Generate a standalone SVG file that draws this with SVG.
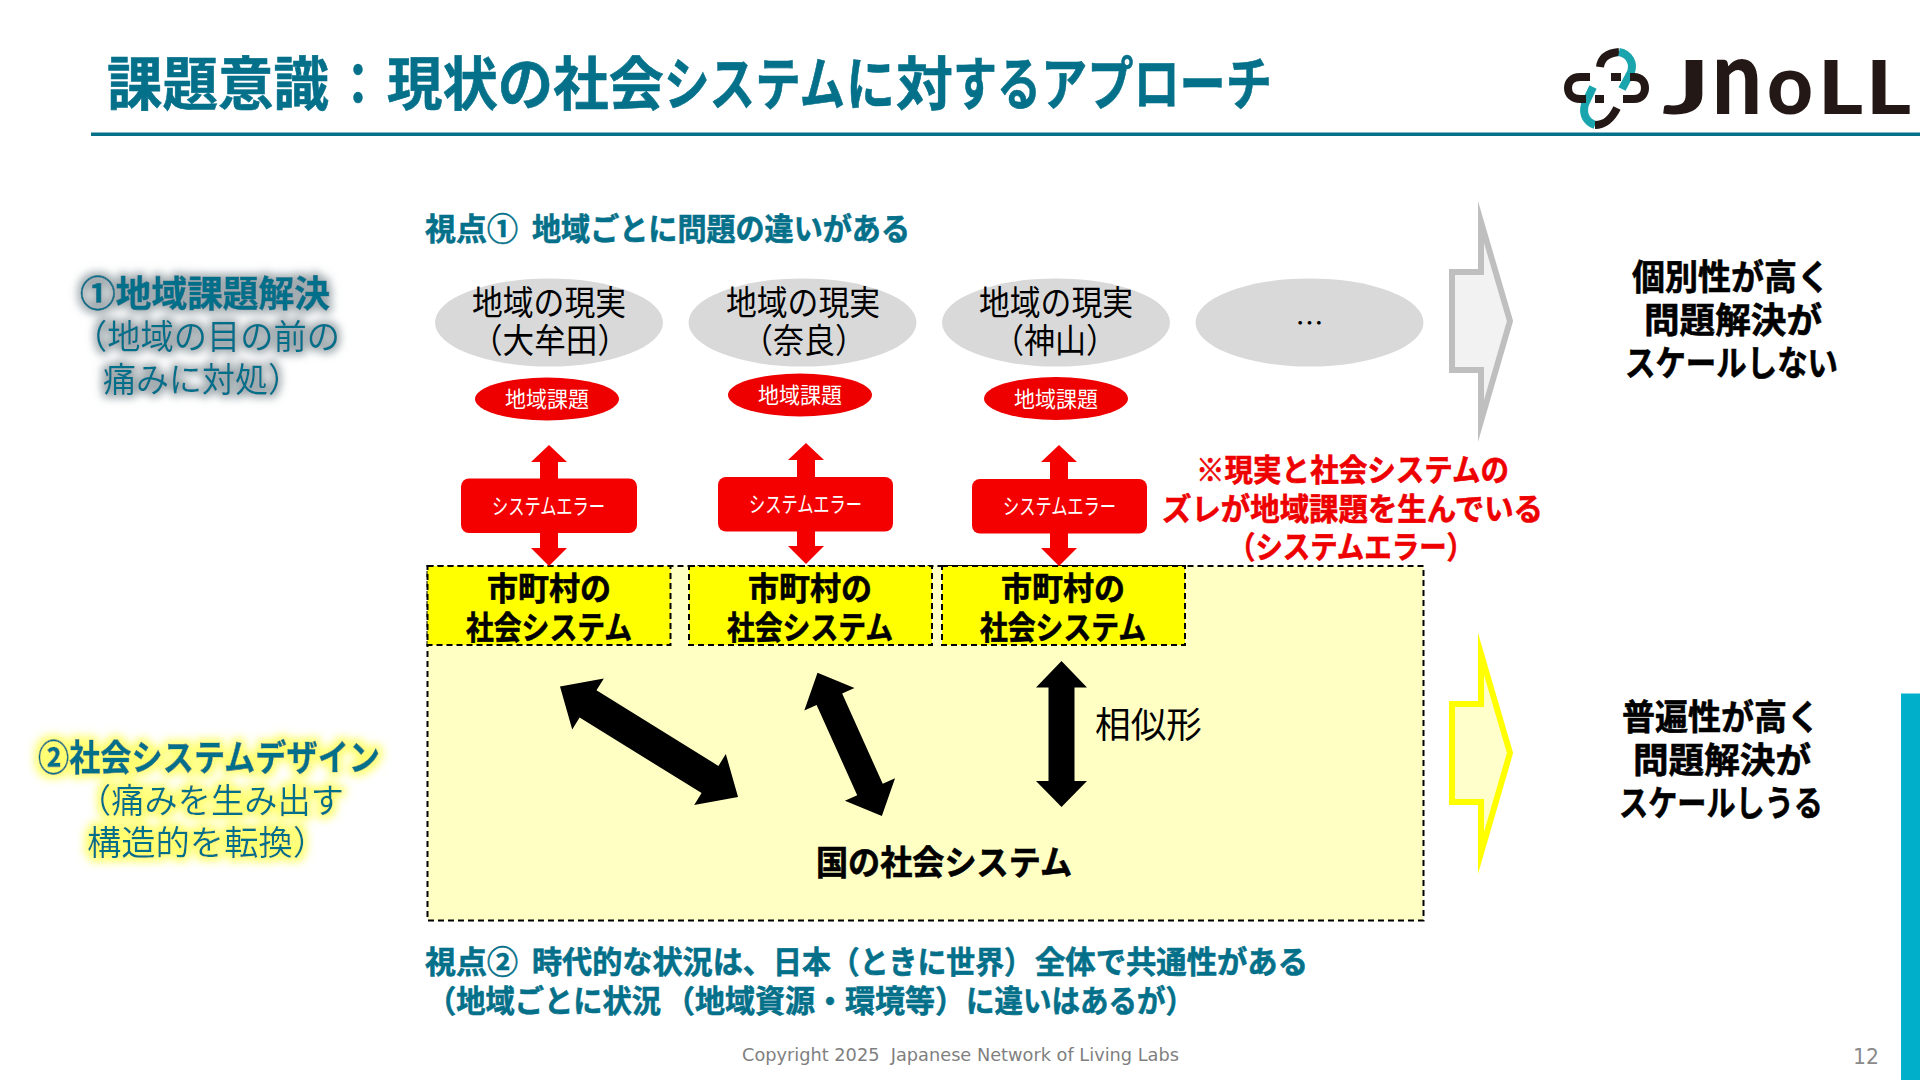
<svg xmlns="http://www.w3.org/2000/svg" width="1920" height="1080" viewBox="0 0 1920 1080">
<style>
text{font-family:"Noto Sans CJK JP","Noto Sans",sans-serif;}
.teal{fill:#04708a}
.b{font-weight:700;stroke-width:.6;paint-order:stroke}
.teal.b{stroke:#04708a}
.k{fill:#000}
.k.b{stroke:#000}
.w{fill:#fff}
.r{fill:#ee0000}
.r.b{stroke:#ee0000}
.gr{fill:#d9d9d9}
.red{fill:#f40000}
.dash{stroke:#000;stroke-width:2;stroke-dasharray:6 4}
.link{fill:none;stroke-width:8;stroke-linecap:butt}
</style>
<defs>
<filter id="glowGray" x="-12%" y="-35%" width="124%" height="170%">
<feMorphology in="SourceAlpha" operator="dilate" radius="3"/><feGaussianBlur stdDeviation="4" result="b"/>
<feFlood flood-color="#8f9ba0" flood-opacity=".85"/><feComposite in2="b" operator="in"/>
<feMerge><feMergeNode/><feMergeNode in="SourceGraphic"/></feMerge>
</filter>
<filter id="glowYellow" x="-12%" y="-35%" width="124%" height="170%">
<feMorphology in="SourceAlpha" operator="dilate" radius="4"/><feGaussianBlur stdDeviation="4" result="b"/>
<feFlood flood-color="#ffff70" flood-opacity="1"/><feComposite in2="b" operator="in"/>
<feMerge><feMergeNode/><feMergeNode in="SourceGraphic"/></feMerge>
</filter>
</defs>
<rect width="1920" height="1080" fill="#fff"/>

<g id="header">
<text class="teal b" y="105" font-size="58"><tspan x="107" textLength="222" lengthAdjust="spacingAndGlyphs">課題意識</tspan><tspan x="335" textLength="46" lengthAdjust="spacingAndGlyphs">：</tspan><tspan x="387" textLength="277" lengthAdjust="spacingAndGlyphs">現状の社会</tspan><tspan x="664" textLength="181" lengthAdjust="spacingAndGlyphs">システム</tspan><tspan x="846" textLength="49" lengthAdjust="spacingAndGlyphs">に</tspan><tspan x="896" textLength="57" lengthAdjust="spacingAndGlyphs">対</tspan><tspan x="953" textLength="88" lengthAdjust="spacingAndGlyphs">する</tspan><tspan x="1041" textLength="231" lengthAdjust="spacingAndGlyphs">アプローチ</tspan></text>
<rect x="91" y="132.5" width="1829" height="3.5" fill="#04708a"/>
</g>

<g id="logo">
<path class="link" stroke="#231815" d="M1600,67 C1601,58 1608,53 1619,52"/>
<path class="link" stroke="#1aa5ae" d="M1619,52 C1630,54 1634,64 1631,72 L1622,89"/>
<path class="link" stroke="#1aa5ae" d="M1593,87 L1585,104 C1582,115 1587,122 1595,125"/>
<path class="link" stroke="#231815" d="M1595,125 C1606,125 1612,118 1617,108"/>
<path class="link" stroke="#231815" d="M1590,77 H1580 C1572,77 1568,82 1568,88 C1568,95 1573,99 1580,99 H1586"/>
<path class="link" stroke="#231815" d="M1623,99 H1634 C1642,99 1645,93 1645,88 C1645,82 1641,77 1634,77 H1630"/>
<path class="link" stroke="#231815" d="M1611,77 H1621 M1595,99 H1604"/>
<text style="font-family:Lato,sans-serif" font-weight="900" fill="#231815" y="114" font-size="74"><tspan x="1662" textLength="48" lengthAdjust="spacingAndGlyphs">J</tspan><tspan x="1712" font-size="104" textLength="50" lengthAdjust="spacingAndGlyphs">n</tspan><tspan x="1767" font-size="84" textLength="46" lengthAdjust="spacingAndGlyphs">o</tspan><tspan x="1818" textLength="45" lengthAdjust="spacingAndGlyphs">L</tspan><tspan x="1866" textLength="45" lengthAdjust="spacingAndGlyphs">L</tspan></text>
</g>

<g id="label-1" filter="url(#glowGray)">
<text class="teal b" x="80" y="307" font-size="36" textLength="250" lengthAdjust="spacingAndGlyphs">①地域課題解決</text>
<text class="teal" x="74" y="349" font-size="34" textLength="266" lengthAdjust="spacingAndGlyphs">（地域の目の前の</text>
<text class="teal" x="103" y="392" font-size="34" textLength="198" lengthAdjust="spacingAndGlyphs">痛みに対処）</text>
</g>
<g id="label-2" filter="url(#glowYellow)">
<text class="teal b" x="38" y="771" font-size="36" textLength="342" lengthAdjust="spacingAndGlyphs">②社会システムデザイン</text>
<text class="teal" x="78" y="813" font-size="34" textLength="266" lengthAdjust="spacingAndGlyphs">（痛みを生み出す</text>
<text class="teal" x="87" y="855" font-size="34" textLength="240" lengthAdjust="spacingAndGlyphs">構造的を転換）</text>
</g>

<g id="viewpoint-1"><text class="teal b" y="240" font-size="31"><tspan x="425" textLength="93" lengthAdjust="spacingAndGlyphs">視点①</tspan><tspan x="532" textLength="378" lengthAdjust="spacingAndGlyphs">地域ごとに問題の違いがある</tspan></text></g>
<g id="viewpoint-2">
<text class="teal b" y="973" font-size="31"><tspan x="425" textLength="93" lengthAdjust="spacingAndGlyphs">視点②</tspan><tspan x="532" textLength="241" lengthAdjust="spacingAndGlyphs">時代的な状況は、</tspan><tspan x="773" textLength="260" lengthAdjust="spacingAndGlyphs">日本（ときに世界）</tspan><tspan x="1035" textLength="273" lengthAdjust="spacingAndGlyphs">全体で共通性がある</tspan></text>
<text class="teal b" y="1012" font-size="31"><tspan x="427" textLength="234" lengthAdjust="spacingAndGlyphs">（地域ごとに状況</tspan><tspan x="665" textLength="300" lengthAdjust="spacingAndGlyphs">（地域資源・環境等）</tspan><tspan x="966" textLength="228" lengthAdjust="spacingAndGlyphs">に違いはあるが）</tspan></text>
</g>

<g id="reality-1"><ellipse class="gr" cx="549" cy="322.5" rx="114" ry="44"/>
<text class="k" x="472" y="315" font-size="34" textLength="154" lengthAdjust="spacingAndGlyphs">地域の現実</text>
<text class="k" x="471" y="353" font-size="34" textLength="158" lengthAdjust="spacingAndGlyphs">（大牟田）</text></g>
<g id="reality-2"><ellipse class="gr" cx="802.5" cy="322.5" rx="114" ry="44"/>
<text class="k" x="726" y="315" font-size="34" textLength="154" lengthAdjust="spacingAndGlyphs">地域の現実</text>
<text class="k" x="742" y="353" font-size="34" textLength="124" lengthAdjust="spacingAndGlyphs">（奈良）</text></g>
<g id="reality-3"><ellipse class="gr" cx="1056" cy="322.5" rx="114" ry="44"/>
<text class="k" x="979" y="315" font-size="34" textLength="154" lengthAdjust="spacingAndGlyphs">地域の現実</text>
<text class="k" x="993" y="353" font-size="34" textLength="124" lengthAdjust="spacingAndGlyphs">（神山）</text></g>
<g id="reality-4"><ellipse class="gr" cx="1309.5" cy="322.5" rx="114" ry="44"/>
<text class="k" x="1309.5" y="334" font-size="28" text-anchor="middle">…</text></g>

<g id="issue-1"><ellipse class="r" cx="547" cy="399" rx="72" ry="21.5"/>
<text class="w" x="505" y="407" font-size="22" textLength="84" lengthAdjust="spacingAndGlyphs">地域課題</text></g>
<g id="issue-2"><ellipse class="r" cx="800" cy="395" rx="72" ry="21.5"/>
<text class="w" x="758" y="403" font-size="22" textLength="84" lengthAdjust="spacingAndGlyphs">地域課題</text></g>
<g id="issue-3"><ellipse class="r" cx="1056" cy="398.5" rx="72" ry="21.5"/>
<text class="w" x="1014" y="406.5" font-size="22" textLength="84" lengthAdjust="spacingAndGlyphs">地域課題</text></g>

<g id="national-system">
<rect x="427.5" y="566" width="996" height="354.5" fill="#ffffc4" class="dash"/>
<text class="k b" x="816" y="875" font-size="34" textLength="256" lengthAdjust="spacingAndGlyphs">国の社会システム</text>
</g>
<g id="municipal-1"><rect x="427.5" y="566" width="243" height="79" fill="#ffff00" class="dash"/>
<text class="k b" x="487" y="600" font-size="32" textLength="124" lengthAdjust="spacingAndGlyphs">市町村の</text>
<text class="k b" x="466" y="639" font-size="32" textLength="166" lengthAdjust="spacingAndGlyphs">社会システム</text></g>
<g id="municipal-2"><rect x="689" y="566" width="243" height="79" fill="#ffff00" class="dash"/>
<text class="k b" x="748" y="600" font-size="32" textLength="124" lengthAdjust="spacingAndGlyphs">市町村の</text>
<text class="k b" x="727" y="639" font-size="32" textLength="166" lengthAdjust="spacingAndGlyphs">社会システム</text></g>
<g id="municipal-3"><rect x="942" y="566" width="243" height="79" fill="#ffff00" class="dash"/>
<text class="k b" x="1001" y="600" font-size="32" textLength="124" lengthAdjust="spacingAndGlyphs">市町村の</text>
<text class="k b" x="980" y="639" font-size="32" textLength="166" lengthAdjust="spacingAndGlyphs">社会システム</text></g>

<g id="connectors">
<polygon class="red" points="549,445 567,462 558,462 558,548 567,548 549,566 531,548 540,548 540,462 531,462"/>
<polygon class="red" points="806,443 824,460 815,460 815,546 824,546 806,564 788,546 797,546 797,460 788,460"/>
<polygon class="red" points="1059,445 1077,462 1068,462 1068,548 1077,548 1059,566 1041,548 1050,548 1050,462 1041,462"/>
<polygon fill="#000" transform="translate(560,686.5) rotate(31.8)" points="0,0 33,-30 33,-16 176.5,-16 176.5,-30 209.5,0 176.5,30 176.5,16 33,16 33,30"/>
<polygon fill="#000" transform="translate(817.5,672.8) rotate(65.8)" points="0,0 29,-27.5 29,-14 128,-14 128,-27.5 157,0 128,27.5 128,14 29,14 29,27.5"/>
<polygon fill="#000" points="1061.5,661 1087,687.5 1074.5,687.5 1074.5,781 1087,781 1061.5,807 1036,781 1048.5,781 1048.5,687.5 1036,687.5"/>
</g>

<g id="error-1"><rect class="red" x="461" y="478.5" width="176" height="54.5" rx="8"/>
<text class="w" x="492" y="514" font-size="22" textLength="113" lengthAdjust="spacingAndGlyphs">システムエラー</text></g>
<g id="error-2"><rect class="red" x="718" y="477" width="175" height="54.5" rx="8"/>
<text class="w" x="749" y="512" font-size="22" textLength="113" lengthAdjust="spacingAndGlyphs">システムエラー</text></g>
<g id="error-3"><rect class="red" x="972" y="479" width="175" height="54.5" rx="8"/>
<text class="w" x="1003" y="514" font-size="22" textLength="113" lengthAdjust="spacingAndGlyphs">システムエラー</text></g>

<g id="similar"><text class="k" x="1095" y="738" font-size="36" textLength="107" lengthAdjust="spacingAndGlyphs">相似形</text></g>

<g id="note">
<text class="r b" x="1196" y="481" font-size="31" textLength="313" lengthAdjust="spacingAndGlyphs">※現実と社会システムの</text>
<text class="r b" x="1162" y="520" font-size="31" textLength="381" lengthAdjust="spacingAndGlyphs">ズレが地域課題を生んでいる</text>
<text class="r b" x="1228" y="558" font-size="31" textLength="246" lengthAdjust="spacingAndGlyphs">（システムエラー）</text>
</g>

<g id="arrow-gray"><polygon points="1452,272 1481,272 1481,222 1510,321 1481,421 1481,370 1452,370" fill="#f2f2f2" stroke="#bfbfbf" stroke-width="6" stroke-miterlimit="20"/></g>
<g id="arrow-yellow"><polygon points="1452,704 1481,704 1481,654 1510,753 1481,853 1481,802 1452,802" fill="#ffffcc" stroke="#ffff00" stroke-width="6" stroke-miterlimit="20"/></g>

<g id="result-1">
<text class="k b" x="1632" y="290" font-size="35" textLength="198" lengthAdjust="spacingAndGlyphs">個別性が高く</text>
<text class="k b" x="1644" y="333" font-size="35" textLength="178" lengthAdjust="spacingAndGlyphs">問題解決が</text>
<text class="k b" x="1625" y="376" font-size="35" textLength="213" lengthAdjust="spacingAndGlyphs">スケールしない</text>
</g>
<g id="result-2">
<text class="k b" x="1622" y="730" font-size="35" textLength="198" lengthAdjust="spacingAndGlyphs">普遍性が高く</text>
<text class="k b" x="1633" y="773" font-size="35" textLength="178" lengthAdjust="spacingAndGlyphs">問題解決が</text>
<text class="k b" x="1619" y="816" font-size="35" textLength="204" lengthAdjust="spacingAndGlyphs">スケールしうる</text>
</g>

<g id="footer">
<text x="742" y="1060.5" fill="#7f7f7f" font-size="17" style="font-family:'DejaVu Sans',sans-serif;white-space:pre" textLength="437" lengthAdjust="spacingAndGlyphs">Copyright 2025  Japanese Network of Living Labs</text>
<text x="1853" y="1064" fill="#8a8a8a" font-size="22" style="font-family:'DejaVu Sans',sans-serif" textLength="26" lengthAdjust="spacingAndGlyphs">12</text>
<rect x="1901" y="693.5" width="19" height="386.5" fill="#00b0cb"/>
</g>
</svg>
